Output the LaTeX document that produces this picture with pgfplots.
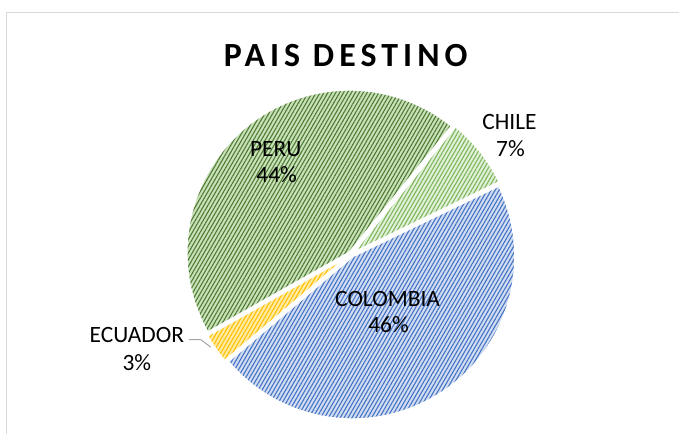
\documentclass[border=0pt]{standalone}
\usepackage{pgfplots}
\pgfplotsset{compat=1.18}
\usepackage{pgfplotstable}
\usetikzlibrary{patterns.meta,calc}
\usepackage{fontspec}
\setmainfont{Carlito}

\definecolor{peruBg}{HTML}{C9E2BA}
\definecolor{peruLn}{HTML}{4E7A32}
\definecolor{chileBg}{HTML}{E2F0D9}
\definecolor{chileLn}{HTML}{7DB65A}
\definecolor{colBg}{HTML}{D2DDF2}
\definecolor{colLn}{HTML}{4472C4}
\definecolor{ecuBg}{HTML}{FFEAA6}
\definecolor{ecuLn}{HTML}{FFC000}
\definecolor{frameGray}{HTML}{D9D9D9}
\definecolor{leaderGray}{HTML}{A6A6A6}

\pgfplotstableread{
name pct
CHILE 7
COLOMBIA 46
ECUADOR 3
PERU 44
}\piedata

\newcommand\slice[4]{%
  \path[preaction={fill=#3},
        pattern={Lines[angle=60,distance=3.4bp,line width=1.1bp]}, pattern color=#4,
        draw=white, line width=2bp, line join=round]
    ($(axis cs:\cx,\cy)+({(#1+#2)/2}:\ex)$) -- ++(#1:\R)
    arc[start angle=#1, end angle=#2, radius=\R] -- cycle;
}

\begin{document}
\begin{tikzpicture}
\pgfplotstablegetelem{0}{pct}\of\piedata \edef\pA{\pgfplotsretval}
\pgfplotstablegetelem{1}{pct}\of\piedata \edef\pB{\pgfplotsretval}
\pgfplotstablegetelem{2}{pct}\of\piedata \edef\pC{\pgfplotsretval}
\pgfplotstablegetelem{3}{pct}\of\piedata \edef\pD{\pgfplotsretval}
\pgfmathsetmacro\aO{51}
\pgfmathsetmacro\aA{\aO-3.6*\pA}
\pgfmathsetmacro\aB{\aA-3.6*\pB}
\pgfmathsetmacro\aC{\aB-3.6*\pC}
\pgfmathsetmacro\aD{\aC-3.6*\pD}
\def\cx{351.4}\def\cy{179.3}\def\R{163bp}\def\ex{2.5bp}
\begin{axis}[
  scale only axis, width=680bp, height=434bp,
  xmin=0, xmax=680, ymin=0, ymax=434,
  hide axis, clip=false,
]
\fill[white] (axis cs:0,0) rectangle (axis cs:680,434);
\draw[frameGray, line width=1.5bp] (axis cs:6.5,0) -- (axis cs:6.5,421.5) -- (axis cs:680,421.5);

\slice{\aO}{\aA}{chileBg}{chileLn}
\slice{\aA}{\aB}{colBg}{colLn}
\slice{\aB}{\aC}{ecuBg}{ecuLn}
\slice{\aC}{\aD}{peruBg}{peruLn}

\node[anchor=base, inner sep=0pt, font=\fontsize{34}{40}\selectfont\bfseries\addfontfeature{LetterSpace=15}]
  at (axis cs:346,367.3) {PAIS DESTINO};

\begin{scope}[every node/.style={anchor=base, inner sep=0pt, font=\fontsize{23.5}{28}\selectfont}]
\node at (axis cs:510,304.7) {CHILE};
\node at (axis cs:511,277.3) {\pA\%};
\node at (axis cs:276,277) {PERU};
\node at (axis cs:277,251) {\pD\%};
\node at (axis cs:388,127) {COLOMBIA};
\node at (axis cs:389,101) {\pB\%};
\node at (axis cs:137,91) {ECUADOR};
\node at (axis cs:137,63) {\pC\%};
\end{scope}
\draw[leaderGray, line width=1bp] (axis cs:189,94) -- (axis cs:201,94) -- (axis cs:211,86.5);
\end{axis}
\end{tikzpicture}
\end{document}
